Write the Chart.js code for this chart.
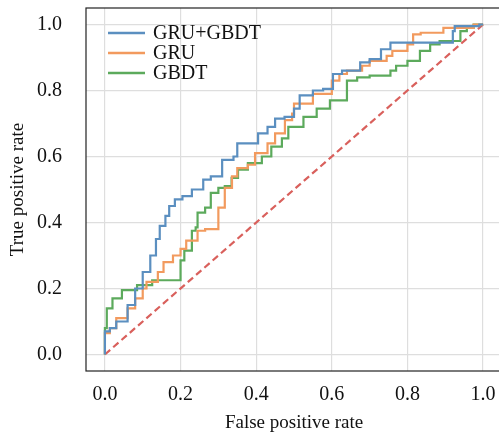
<!DOCTYPE html>
<html>
<head>
<meta charset="utf-8">
<script src="https://cdn.jsdelivr.net/npm/chart.js@4/dist/chart.umd.min.js"></script>
<style>
  html, body { margin: 0; padding: 0; background: #fff; overflow: hidden; }
  #wrap { width: 504px; height: 434px; }
</style>
</head>
<body>
<div id="wrap"><canvas id="roc" width="504" height="434"></canvas></div>
<script>
(function () {
  "use strict";

  var tickValues = [0, 0.2, 0.4, 0.6, 0.8, 1.0];

  var gruGbdtFpr = [0, 0.013, 0.03, 0.06, 0.08, 0.1, 0.12, 0.135, 0.145, 0.16, 0.17, 0.185, 0.205, 0.23, 0.26, 0.28, 0.31, 0.34, 0.35, 0.38, 0.405, 0.43, 0.45, 0.475, 0.50, 0.515, 0.55, 0.577, 0.603, 0.627, 0.675, 0.70, 0.73, 0.755, 0.80, 0.92, 0.925, 0.947, 0.99, 1.0];
  var gruGbdtTpr = [0, 0.07, 0.08, 0.1, 0.15, 0.2, 0.25, 0.3, 0.35, 0.39, 0.42, 0.45, 0.47, 0.48, 0.50, 0.53, 0.54, 0.59, 0.60, 0.64, 0.64, 0.67, 0.69, 0.715, 0.72, 0.745, 0.785, 0.80, 0.805, 0.85, 0.86, 0.885, 0.895, 0.925, 0.945, 0.945, 0.98, 0.995, 0.995, 1.0];

  var gruFpr = [0, 0.013, 0.03, 0.06, 0.08, 0.1, 0.11, 0.14, 0.155, 0.18, 0.2, 0.215, 0.245, 0.265, 0.30, 0.317, 0.336, 0.35, 0.378, 0.397, 0.43, 0.45, 0.476, 0.495, 0.50, 0.55, 0.60, 0.62, 0.64, 0.68, 0.70, 0.745, 0.76, 0.80, 0.815, 0.835, 0.895, 0.905, 0.975, 1.0];
  var gruTpr = [0, 0.065, 0.08, 0.11, 0.14, 0.17, 0.2, 0.22, 0.25, 0.28, 0.30, 0.32, 0.345, 0.375, 0.38, 0.445, 0.505, 0.54, 0.565, 0.575, 0.61, 0.64, 0.67, 0.71, 0.73, 0.76, 0.79, 0.83, 0.85, 0.86, 0.875, 0.89, 0.905, 0.92, 0.94, 0.97, 0.975, 0.99, 0.99, 1.0];

  var gbdtFpr = [0, 0.005, 0.02, 0.045, 0.085, 0.125, 0.165, 0.2, 0.21, 0.23, 0.24, 0.245, 0.265, 0.28, 0.30, 0.317, 0.335, 0.352, 0.378, 0.415, 0.44, 0.468, 0.485, 0.525, 0.56, 0.595, 0.64, 0.667, 0.70, 0.755, 0.77, 0.80, 0.833, 0.86, 0.885, 0.94, 0.957, 0.975, 0.99, 1.0];
  var gbdtTpr = [0, 0.08, 0.14, 0.17, 0.195, 0.21, 0.225, 0.225, 0.285, 0.315, 0.375, 0.385, 0.43, 0.445, 0.49, 0.505, 0.51, 0.535, 0.56, 0.58, 0.60, 0.63, 0.655, 0.69, 0.72, 0.745, 0.77, 0.83, 0.84, 0.845, 0.86, 0.875, 0.89, 0.92, 0.94, 0.95, 0.98, 0.99, 1.0, 1.0];

  var chanceFpr = [0, 1];
  var chanceTpr = [0, 1];

  function points(xs, ys) {
    var out = [];
    for (var i = 0; i < xs.length; i++) {
      out.push({ x: xs[i], y: ys[i] });
    }
    return out;
  }

  function curve(label, xs, ys, color) {
    return {
      label: label,
      data: points(xs, ys),
      borderColor: color,
      backgroundColor: color,
      borderWidth: 2.2,
      pointRadius: 0,
      stepped: "after",
      fill: false,
    };
  }

  var serif = "'Liberation Serif', 'DejaVu Serif', serif";

  var framePlugin = {
    id: "frame",
    afterDatasetsDraw: function (chart) {
      var a = chart.chartArea;
      var ctx = chart.ctx;
      ctx.save();
      ctx.strokeStyle = "#222";
      ctx.lineWidth = 1.2;
      ctx.strokeRect(a.left, a.top, a.right - a.left, a.bottom - a.top);

      // legend in upper-left of the plot area
      var x0 = a.left + 22;
      var y0 = a.top + 25;
      ctx.font = "20px " + serif;
      ctx.textBaseline = "middle";
      for (var i = 0; i < 3; i++) {
        var ds = chart.data.datasets[i];
        var y = y0 + i * 20;
        ctx.strokeStyle = ds.borderColor;
        ctx.lineWidth = 2.5;
        ctx.beginPath();
        ctx.moveTo(x0, y);
        ctx.lineTo(x0 + 37, y);
        ctx.stroke();
        ctx.fillStyle = "#111";
        ctx.fillText(ds.label, x0 + 45, y + 1);
      }
      ctx.restore();
    },
  };

  function fixTicks(scale) {
    scale.ticks = tickValues.map(function (v) { return { value: v }; });
  }

  new Chart(document.getElementById("roc"), {
    type: "line",
    data: {
      datasets: [
        curve("GRU+GBDT", gruGbdtFpr, gruGbdtTpr, "#5b8fc0"),
        curve("GRU", gruFpr, gruTpr, "#f29a5e"),
        curve("GBDT", gbdtFpr, gbdtTpr, "#5caa5c"),
        {
          label: "chance",
          data: points(chanceFpr, chanceTpr),
          borderColor: "#d9605c",
          borderWidth: 2.2,
          borderDash: [7, 4],
          pointRadius: 0,
          fill: false,
        },
      ],
    },
    options: {
      responsive: false,
      animation: false,
      layout: { padding: { top: 8, right: 2, left: 0, bottom: 0 } },
      plugins: { legend: { display: false }, tooltip: { enabled: false } },
      scales: {
        x: {
          type: "linear",
          min: -0.05,
          max: 1.05,
          afterBuildTicks: fixTicks,
          afterFit: function (s) {
            s.height = 63;
            s.paddingLeft = 0;
            s.paddingRight = 0;
          },
          grid: { color: "#dedede", lineWidth: 1.2, drawTicks: false },
          border: { display: false },
          ticks: {
            padding: 12,
            color: "#111",
            font: { family: serif, size: 20 },
            callback: function (v) { return v.toFixed(1); },
          },
          title: {
            display: true,
            text: "False positive rate",
            color: "#111",
            font: { family: serif, size: 19 },
            padding: { top: 7, bottom: 0 },
          },
        },
        y: {
          type: "linear",
          min: -0.05,
          max: 1.05,
          afterBuildTicks: fixTicks,
          afterFit: function (s) {
            s.width = 86;
            s.paddingTop = 0;
            s.paddingBottom = 0;
          },
          grid: { color: "#dedede", lineWidth: 1.2, drawTicks: false },
          border: { display: false },
          ticks: {
            padding: 24,
            color: "#111",
            font: { family: serif, size: 20 },
            callback: function (v) { return v.toFixed(1); },
          },
          title: {
            display: true,
            text: "True positive rate",
            color: "#111",
            font: { family: serif, size: 19 },
            padding: { top: 7, bottom: 0 },
          },
        },
      },
    },
    plugins: [framePlugin],
  });
})();
</script>
</body>
</html>
